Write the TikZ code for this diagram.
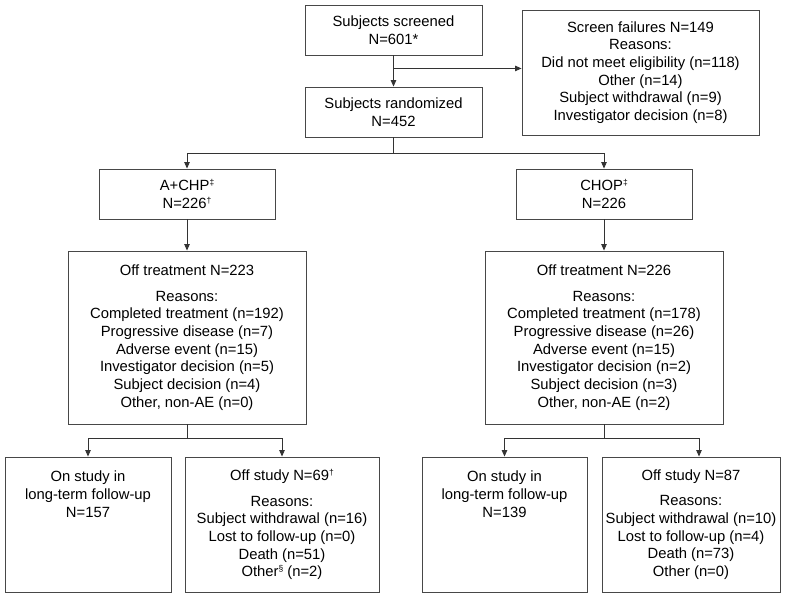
\documentclass[tikz,border=0pt]{standalone}
\usepackage{fontspec}
\setmainfont{Liberation Sans}
\usetikzlibrary{arrows.meta}
\newcommand{\supmark}[1]{\raisebox{5pt}{\fontsize{8.5}{8.5}\selectfont #1}}
\begin{document}
\begin{tikzpicture}[x=1pt,y=-1pt,
  box/.style={draw=black!72, line width=0.9pt, inner sep=0pt, align=center,
    font=\fontsize{14.8}{17.7}\selectfont, text=black},
  txt/.style={inner sep=0pt, align=center, font=\fontsize{14.8}{17.7}\selectfont, text=black},
  conn/.style={draw=black!80, line width=0.9pt},
  arr/.style={conn, -{Triangle[length=6.5pt,width=5.5pt]}}]
\useasboundingbox[fill=white] (0,0) rectangle (800,597);

\node[box, minimum width=177pt, minimum height=50pt] (scr) at (393.5,30) {Subjects screened\\N=601*};
\node[box, minimum width=177pt, minimum height=50pt] (ran) at (393.5,112) {Subjects randomized\\N=452};
\node[box, minimum width=237pt, minimum height=125pt] (fail) at (640.5,72.5)
  {Screen failures N=149\\Reasons:\\Did not meet eligibility (n=118)\\Other (n=14)\\Subject withdrawal (n=9)\\Investigator decision (n=8)};

\node[box, minimum width=176pt, minimum height=50pt] (acp) at (187,194) {A+CHP\supmark{‡}\\N=226\supmark{†}};
\node[box, minimum width=176pt, minimum height=50pt] (chop) at (604,194) {CHOP\supmark{‡}\\N=226};

\node[box, minimum width=238pt, minimum height=173pt] (ot1) at (187,337.5)
  {Off treatment N=223\\[8pt]Reasons:\\Completed treatment (n=192)\\Progressive disease (n=7)\\Adverse event (n=15)\\Investigator decision (n=5)\\Subject decision (n=4)\\Other, non-AE (n=0)};
\node[box, minimum width=238pt, minimum height=173pt] (ot2) at (604,337.5)
  {Off treatment N=226\\[8pt]Reasons:\\Completed treatment (n=178)\\Progressive disease (n=26)\\Adverse event (n=15)\\Investigator decision (n=2)\\Subject decision (n=3)\\Other, non-AE (n=2)};

\node[box, minimum width=166pt, minimum height=135pt] (on1) at (88,524.5) {};
\node[txt, anchor=north] (on1t) at ([yshift=-14.5pt]on1.north) {On study in\\long-term follow-up\\N=157};
\node[box, minimum width=194pt, minimum height=135pt] (off1) at (282,524.5)
  {Off study N=69\supmark{†}\\[8pt]Reasons:\\Subject withdrawal (n=16)\\Lost to follow-up (n=0)\\Death (n=51)\\Other\supmark{§} (n=2)};
\node[box, minimum width=165pt, minimum height=135pt] (on2) at (504.5,524.5) {};
\node[txt, anchor=north] (on2t) at ([yshift=-14.5pt]on2.north) {On study in\\long-term follow-up\\N=139};
\node[box, minimum width=178pt, minimum height=135pt] (off2) at (691,524.5)
  {Off study N=87\\[8pt]Reasons:\\Subject withdrawal (n=10)\\Lost to follow-up (n=4)\\Death (n=73)\\Other (n=0)};

% connectors
\draw[arr] (scr) -- (ran);
\path (scr.south) ++(0,13) coordinate (b1);
\draw[arr] (b1) -- (b1 -| fail.west);
\draw[conn] (ran.south) -- ++(0,16) coordinate (b2);
\draw[arr] (b2) -| (acp.north);
\draw[arr] (b2) -| (chop.north);
\draw[arr] (acp) -- (ot1);
\draw[arr] (chop) -- (ot2);
\draw[conn] (ot1.south) -- ++(0,14) coordinate (b3);
\draw[arr] (b3) -| (on1.north);
\draw[arr] (b3) -| (off1.north);
\draw[conn] (ot2.south) -- ++(0,14) coordinate (b4);
\draw[arr] (b4) -| (on2.north);
\draw[arr] (b4) -| ([xshift=8pt]off2.north);
\end{tikzpicture}
\end{document}
